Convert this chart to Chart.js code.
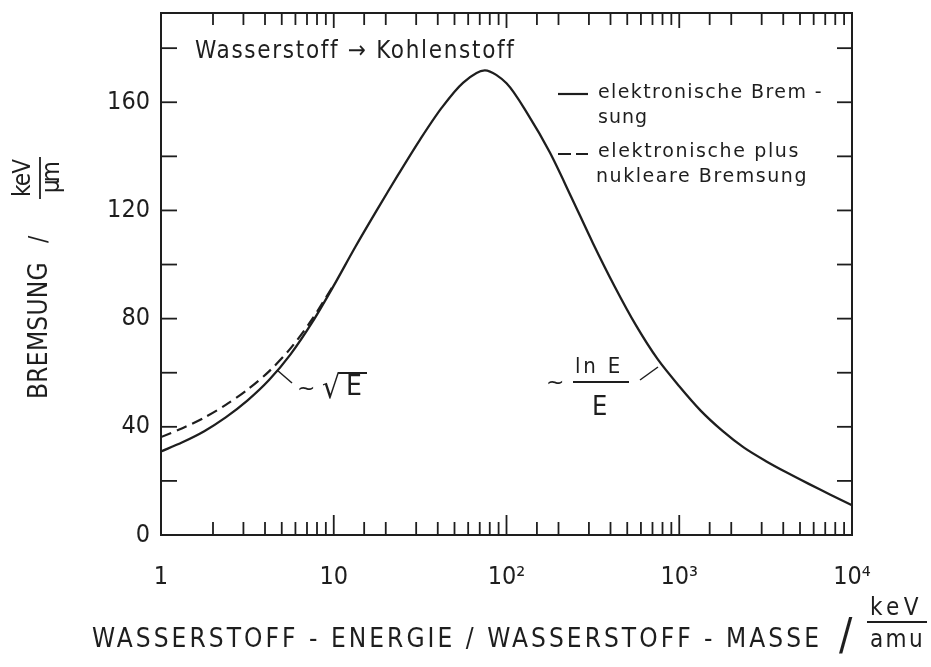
<!DOCTYPE html>
<html>
<head>
<meta charset="utf-8">
<script src="https://cdn.jsdelivr.net/npm/chart.js@4.4.0/dist/chart.umd.min.js"></script>
<style>
  html, body { margin: 0; padding: 0; background: #fff; }
</style>
</head>
<body>
<canvas id="bremsChart" width="931" height="667"></canvas>
<script>
// Werte
const energie = [1, 1.33, 1.78, 2.37, 3.16, 4.22, 5.62, 7.5, 10, 13.3, 17.8, 23.7, 31.6, 42.2, 56.2, 75, 100,
                 133, 178, 237, 316, 422, 562, 750, 1000, 1330, 1780, 2370, 3160, 4220, 5620, 7500, 10000];
const bremsElektronisch = [30.9, 34.3, 38.4, 43.5, 49.7, 57.3, 66.8, 78.6, 92.2, 106.4, 120.2, 133.4, 146.2, 158, 167.3, 171.8, 167,
                           155.5, 141.5, 125, 108, 92, 77.5, 65, 55, 46, 38.5, 32.3, 27.4, 23, 18.9, 14.9, 11];
const energieNuklear = [1, 1.33, 1.78, 2.37, 3.16, 4.22, 5.62, 7.5, 10];
const bremsNuklear = [36.2, 39.5, 43.4, 48.1, 53.7, 60.5, 69, 79.8, 92.5];
const xBeschriftung = { 1: '1', 10: '10', 100: '10²', 1000: '10³', 10000: '10⁴' };
const yBeschriftung = [0, 40, 80, 120, 160];

const TINTE = '#1e1e1e';
const SCHMAL = "'Liberation Sans Narrow', 'DejaVu Sans Condensed', sans-serif";
const NORMAL = "'DejaVu Sans', sans-serif";
const KOND = "'DejaVu Sans Condensed', 'DejaVu Sans', sans-serif";

// Text auf eine bestimmte Breite sperren
function schreib(ctx, text, x, y, breite, font) {
    ctx.font = font;
    ctx.letterSpacing = '0px';
    const w = ctx.measureText(text).width;
    const n = [...text].length;
    if (breite && n > 1) ctx.letterSpacing = ((breite - w) / n) + 'px';
    ctx.fillText(text, x, y);
    ctx.letterSpacing = '0px';
}

function linie(ctx, x1, y1, x2, y2) {
    ctx.beginPath();
    ctx.moveTo(x1, y1);
    ctx.lineTo(x2, y2);
    ctx.stroke();
}

// Rahmen und nach innen zeigende Striche
const rahmenPlugin = {
    id: 'rahmen',
    afterDatasetsDraw(chart) {
        const { ctx, chartArea: a, scales: { x, y } } = chart;
        ctx.save();
        ctx.strokeStyle = TINTE;
        ctx.lineWidth = 2;
        ctx.strokeRect(a.left, a.top, a.right - a.left, a.bottom - a.top);
        ctx.lineWidth = 1.8;
        x.ticks.forEach(t => {
            if (t.value <= x.min || t.value >= x.max) return;
            const px = x.getPixelForValue(t.value);
            const dekade = Number.isInteger(Math.log10(t.value));
            linie(ctx, px, a.bottom, px, a.bottom - (dekade ? 20 : 13));
            linie(ctx, px, a.top, px, a.top + (dekade ? 15 : 12));
        });
        y.ticks.forEach(t => {
            if (t.value <= 0 || t.value % 20 !== 0) return;
            const py = y.getPixelForValue(t.value);
            linie(ctx, a.left, py, a.left + 16, py);
            linie(ctx, a.right, py, a.right - 15, py);
        });
        ctx.restore();
    }
};

// Achsentitel, Legende und Anmerkungen
const texte = {
    id: 'texte',
    afterDraw(chart) {
        const ctx = chart.ctx;
        ctx.save();
        ctx.fillStyle = TINTE;
        ctx.strokeStyle = TINTE;
        ctx.textBaseline = 'alphabetic';
        ctx.textAlign = 'left';

        // x-Titel
        schreib(ctx, 'WASSERSTOFF - ENERGIE / WASSERSTOFF - MASSE', 92, 647, 730, '26px ' + SCHMAL);
        schreib(ctx, '/', 839, 650, 0, '44px ' + SCHMAL);
        schreib(ctx, 'keV', 870, 615, 53, '24px ' + KOND);
        schreib(ctx, 'amu', 870, 647, 55, '24px ' + KOND);
        ctx.lineWidth = 1.8;
        linie(ctx, 867, 622, 927, 622);

        // y-Titel (gedreht)
        ctx.save();
        ctx.translate(47, 331);
        ctx.rotate(-Math.PI / 2);
        schreib(ctx, 'BREMSUNG', -68, 0, 137, '26px ' + SCHMAL);
        schreib(ctx, '/', 88, -1, 0, '24px ' + SCHMAL);
        schreib(ctx, 'keV', 134, -17, 37, '24px ' + KOND);
        linie(ctx, 132, -7, 174, -7);
        schreib(ctx, 'µm', 138, 12, 29, '24px ' + KOND);
        ctx.restore();

        // Ueberschrift im Diagramm
        schreib(ctx, 'Wasserstoff → Kohlenstoff', 195, 58, 320, '24px ' + KOND);

        // Legende
        ctx.lineWidth = 2.2;
        linie(ctx, 558, 94, 588, 94);
        ctx.setLineDash([13, 5]);
        linie(ctx, 558, 154, 588, 154);
        ctx.setLineDash([]);
        schreib(ctx, 'elektronische Brem -', 598, 98, 225, '19px ' + NORMAL);
        schreib(ctx, 'sung', 598, 123, 50, '19px ' + NORMAL);
        schreib(ctx, 'elektronische plus', 598, 157, 202, '19px ' + NORMAL);
        schreib(ctx, 'nukleare Bremsung', 596, 182, 212, '19px ' + NORMAL);

        // ~ Wurzel E
        ctx.lineWidth = 1.5;
        linie(ctx, 277, 370, 292, 383);
        schreib(ctx, '~', 297, 395, 0, '22px ' + NORMAL);
        ctx.font = '32px ' + KOND;
        const wm = ctx.measureText('√');
        ctx.fillText('√', 322, 398);
        const oben = 398 - wm.actualBoundingBoxAscent;
        schreib(ctx, 'E', 346, 395, 0, '28px ' + KOND);
        ctx.lineWidth = 2;
        linie(ctx, 322 + wm.width - 2, oben + 1, 367, oben + 1);

        // ~ ln E / E
        ctx.lineWidth = 1.5;
        linie(ctx, 640, 380, 658, 367);
        schreib(ctx, '~', 546, 389, 0, '22px ' + NORMAL);
        schreib(ctx, 'ln E', 575, 373, 48, '22px ' + KOND);
        ctx.lineWidth = 2;
        linie(ctx, 573, 382, 629, 382);
        schreib(ctx, 'E', 592, 415, 0, '27px ' + KOND);
        ctx.restore();
    }
};

const ctx1 = document.getElementById('bremsChart').getContext('2d');
new Chart(ctx1, {
    type: 'line',
    data: {
        datasets: [
            {
                label: 'elektronische Bremsung',
                data: energie.map((e, i) => ({ x: e, y: bremsElektronisch[i] })),
                borderColor: TINTE,
                borderWidth: 2.3,
                pointRadius: 0,
                tension: 0.3,
                fill: false
            },
            {
                label: 'elektronische plus nukleare Bremsung',
                data: energieNuklear.map((e, i) => ({ x: e, y: bremsNuklear[i] })),
                borderColor: TINTE,
                borderWidth: 2.2,
                borderDash: [11, 6],
                pointRadius: 0,
                tension: 0.3,
                fill: false
            }
        ]
    },
    options: {
        responsive: false,
        animation: false,
        layout: { padding: { top: 13, right: 79, left: 0, bottom: 0 } },
        plugins: {
            legend: { display: false },
            tooltip: { enabled: false }
        },
        scales: {
            x: {
                type: 'logarithmic',
                min: 1,
                max: 10000,
                grid: { display: false, drawTicks: false },
                border: { display: false },
                ticks: {
                    autoSkip: false,
                    maxRotation: 0,
                    padding: 27,
                    color: TINTE,
                    font: { family: SCHMAL, size: 25 },
                    callback: (v) => xBeschriftung[v] ?? ''
                },
                afterFit: (s) => { s.height = 132; s.paddingLeft = 0; s.paddingRight = 0; }
            },
            y: {
                min: 0,
                max: 193,
                grid: { display: false, drawTicks: false },
                border: { display: false },
                ticks: {
                    stepSize: 20,
                    padding: 11,
                    color: TINTE,
                    font: { family: SCHMAL, size: 25 },
                    callback: (v) => yBeschriftung.includes(v) ? String(v) : ''
                },
                afterFit: (s) => { s.width = 161; s.paddingTop = 0; s.paddingBottom = 0; }
            }
        }
    },
    plugins: [rahmenPlugin, texte]
});
</script>
</body>
</html>
